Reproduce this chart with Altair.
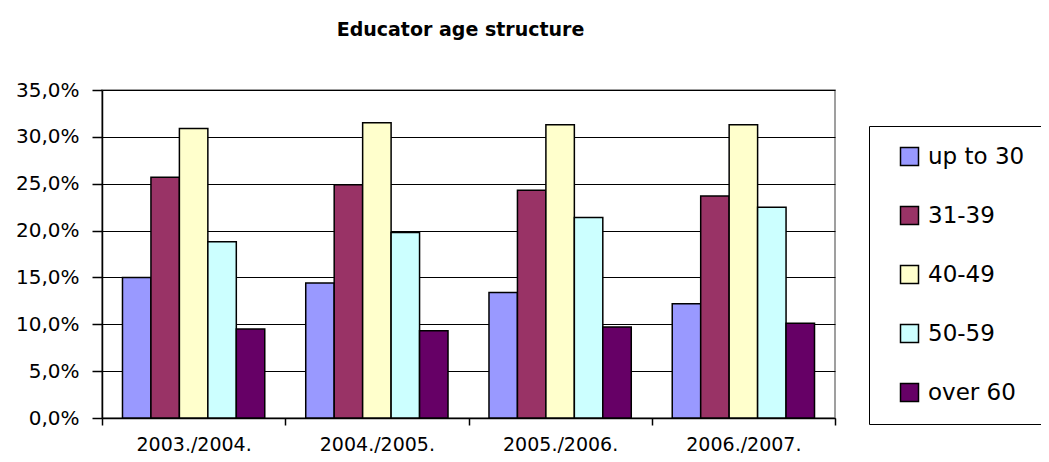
import altair as alt
import pandas as pd

periods = ["2003./2004.", "2004./2005.", "2005./2006.", "2006./2007."]
groups = ["up to 30", "31-39", "40-49", "50-59", "over 60"]
up_to_30 = [0.150, 0.144, 0.134, 0.122]
g31_39 = [0.257, 0.249, 0.243, 0.237]
g40_49 = [0.309, 0.315, 0.313, 0.313]
g50_59 = [0.188, 0.198, 0.214, 0.225]
over_60 = [0.095, 0.093, 0.097, 0.101]
colors = ["#9999FF", "#993366", "#FFFFCC", "#CCFFFF", "#660066"]
y_ticks = [0, 0.05, 0.10, 0.15, 0.20, 0.25, 0.30, 0.35]

series = [up_to_30, g31_39, g40_49, g50_59, over_60]
rows = []
for g, vals in zip(groups, series):
    for p, v in zip(periods, vals):
        rows.append({"period": p, "group": g, "share": v})
df = pd.DataFrame(rows)

FONT = "DejaVu Sans"

chart = alt.Chart(df).mark_bar(stroke="black", strokeWidth=1.5).encode(
    x=alt.X("period:N", sort=periods, title=None,
            scale=alt.Scale(paddingInner=0, paddingOuter=0),
            axis=alt.Axis(labelAngle=0, tickBand="extent", tickSize=7,
                          labelPadding=10, labelFontSize=19, labelFont=FONT,
                          labelColor="black", domainColor="black", domainWidth=1.5,
                          tickColor="black", tickWidth=1.5, grid=False)),
    xOffset=alt.XOffset("group:N", sort=groups,
                        scale=alt.Scale(paddingInner=0, paddingOuter=0.72)),
    y=alt.Y("share:Q", title=None,
            scale=alt.Scale(domain=[0, 0.35], nice=False),
            axis=alt.Axis(values=y_ticks,
                          labelExpr="replace(format(datum.value, '.1%'), '.', ',')",
                          tickSize=10, labelPadding=13, labelFontSize=20, labelFont=FONT,
                          labelColor="black", domainColor="black", domainWidth=1.5,
                          tickColor="black", tickWidth=1.5,
                          grid=True, gridColor="black", gridWidth=1)),
    color=alt.Color("group:N", sort=groups, title=None,
                    scale=alt.Scale(domain=groups, range=colors),
                    legend=alt.Legend(orient="none", legendX=767, legendY=36,
                                      strokeColor="black", padding=19,
                                      symbolType="square", symbolSize=324,
                                      symbolStrokeColor="black", symbolStrokeWidth=1.5,
                                      symbolOffset=10, labelOffset=7,
                                      labelFontSize=23, labelFont=FONT, labelColor="black",
                                      rowPadding=34, labelLimit=300)),
).properties(
    width=733,
    height=328,
    title=alt.TitleParams("Educator age structure", font=FONT, fontSize=19,
                          fontWeight="bold", color="black", offset=40, dx=-8),
    autosize=alt.AutoSizeParams(type="none"),
    padding={"left": 94, "top": 82, "right": 206, "bottom": 36},
).configure_view(stroke="#808080", strokeWidth=1.5)

chart.save("out.html", embed_options={"renderer": "svg", "actions": False})
